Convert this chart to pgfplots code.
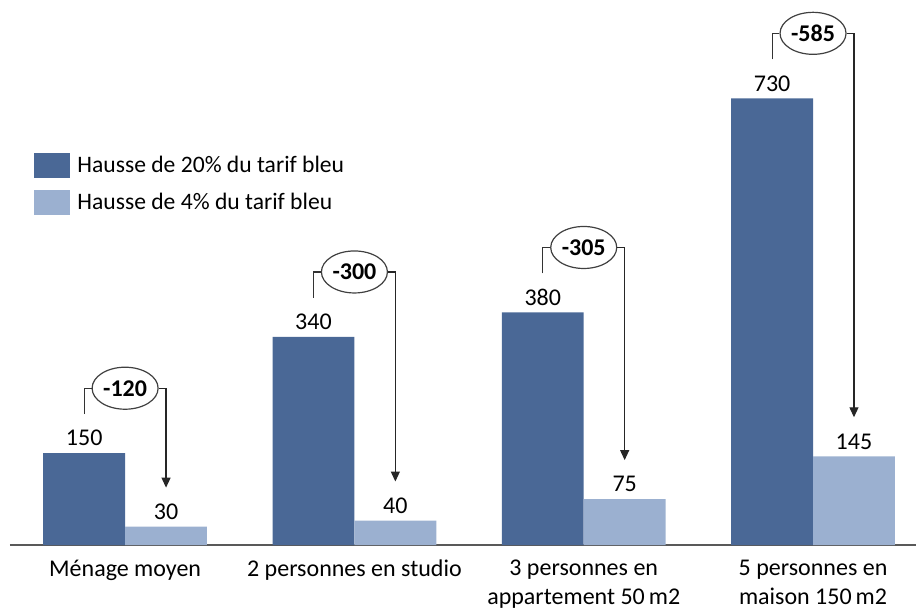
\documentclass[border=0pt]{standalone}
\usepackage{fontspec}
\setmainfont{Carlito}
\usepackage{pgfplots}
\pgfplotsset{compat=1.18}
\usetikzlibrary{shapes.geometric,arrows.meta}

\definecolor{darkbar}{HTML}{4A6896}
\definecolor{lightbar}{HTML}{9BB0D0}

% #1 node name, #2 dark x, #3 centre x, #4 light x, #5 dark value, #6 light value, #7 difference
\newcommand\annot[7]{%
  \node[ellipse, draw=black!75, fill=white, line width=0.6pt,
        minimum width=33pt, minimum height=21pt, inner sep=0pt,
        font=\fontsize{12}{14}\selectfont\bfseries, yshift=32.5pt] (#1)
        at (axis cs:#3,#5) {#7};
  \draw[black!80, line width=0.6pt] ([yshift=19.5pt]axis cs:#2,#5) |- (#1.west);
  \draw[black!85, line width=0.6pt, -{Triangle[length=5pt,width=4.5pt]}]
        (#1.east) -| ([yshift=19.5pt]axis cs:#4,#6);
}

\begin{document}
\begin{tikzpicture}
\begin{axis}[
  scale only axis,
  width=453pt, height=272.5pt,
  xmin=-0.502, xmax=3.449,
  ymin=0, ymax=890.7,
  ybar=0pt, bar width=0.357,
  hide y axis,
  axis x line*=bottom,
  x axis line style={draw=black!65, line width=1pt},
  xtick={0,1,2,3},
  xticklabels={M\'enage moyen, 2 personnes en studio, {3 personnes en\\appartement 50\,m2}, {5 personnes en\\maison 150\,m2}},
  major tick length=0pt,
  xticklabel style={align=center, font=\fontsize{12}{14.5}\selectfont, text=black, yshift=-4pt},
  /pgf/number format/assume math mode=true,
  nodes near coords,
  every node near coord/.append style={font=\fontsize{12}{14}\selectfont, text=black, yshift=0pt},
  legend cell align=left,
  legend style={draw=none, fill=none, inner sep=0pt, at={(rel axis cs:0.0265,0.722)}, anchor=north west,
    font=\fontsize{11.8}{14}\selectfont, row sep=5pt,
    /tikz/every odd column/.append style={column sep=1.5pt}},
  legend image code/.code={\fill[#1] (0pt,-6.25pt) rectangle (18pt,6.25pt);},
]
\addplot[fill=darkbar, draw=none] coordinates {(0,150) (1,340) (2,380) (3,730)};
\addplot[fill=lightbar, draw=none] coordinates {(0,30) (1,40) (2,75) (3,145)};
\legend{Hausse de 20\% du tarif bleu, Hausse de 4\% du tarif bleu}

\annot{a}{-0.1785}{0}{0.1785}{150}{30}{-120}
\annot{b}{0.8215}{1}{1.1785}{340}{40}{-300}
\annot{c}{1.8215}{2}{2.1785}{380}{75}{-305}
\annot{d}{2.8215}{3}{3.1785}{730}{145}{-585}
\end{axis}
\pgfresetboundingbox
\path (current axis.south west) ++(-5pt,-33pt) rectangle (current axis.north east);
\end{tikzpicture}
\end{document}
